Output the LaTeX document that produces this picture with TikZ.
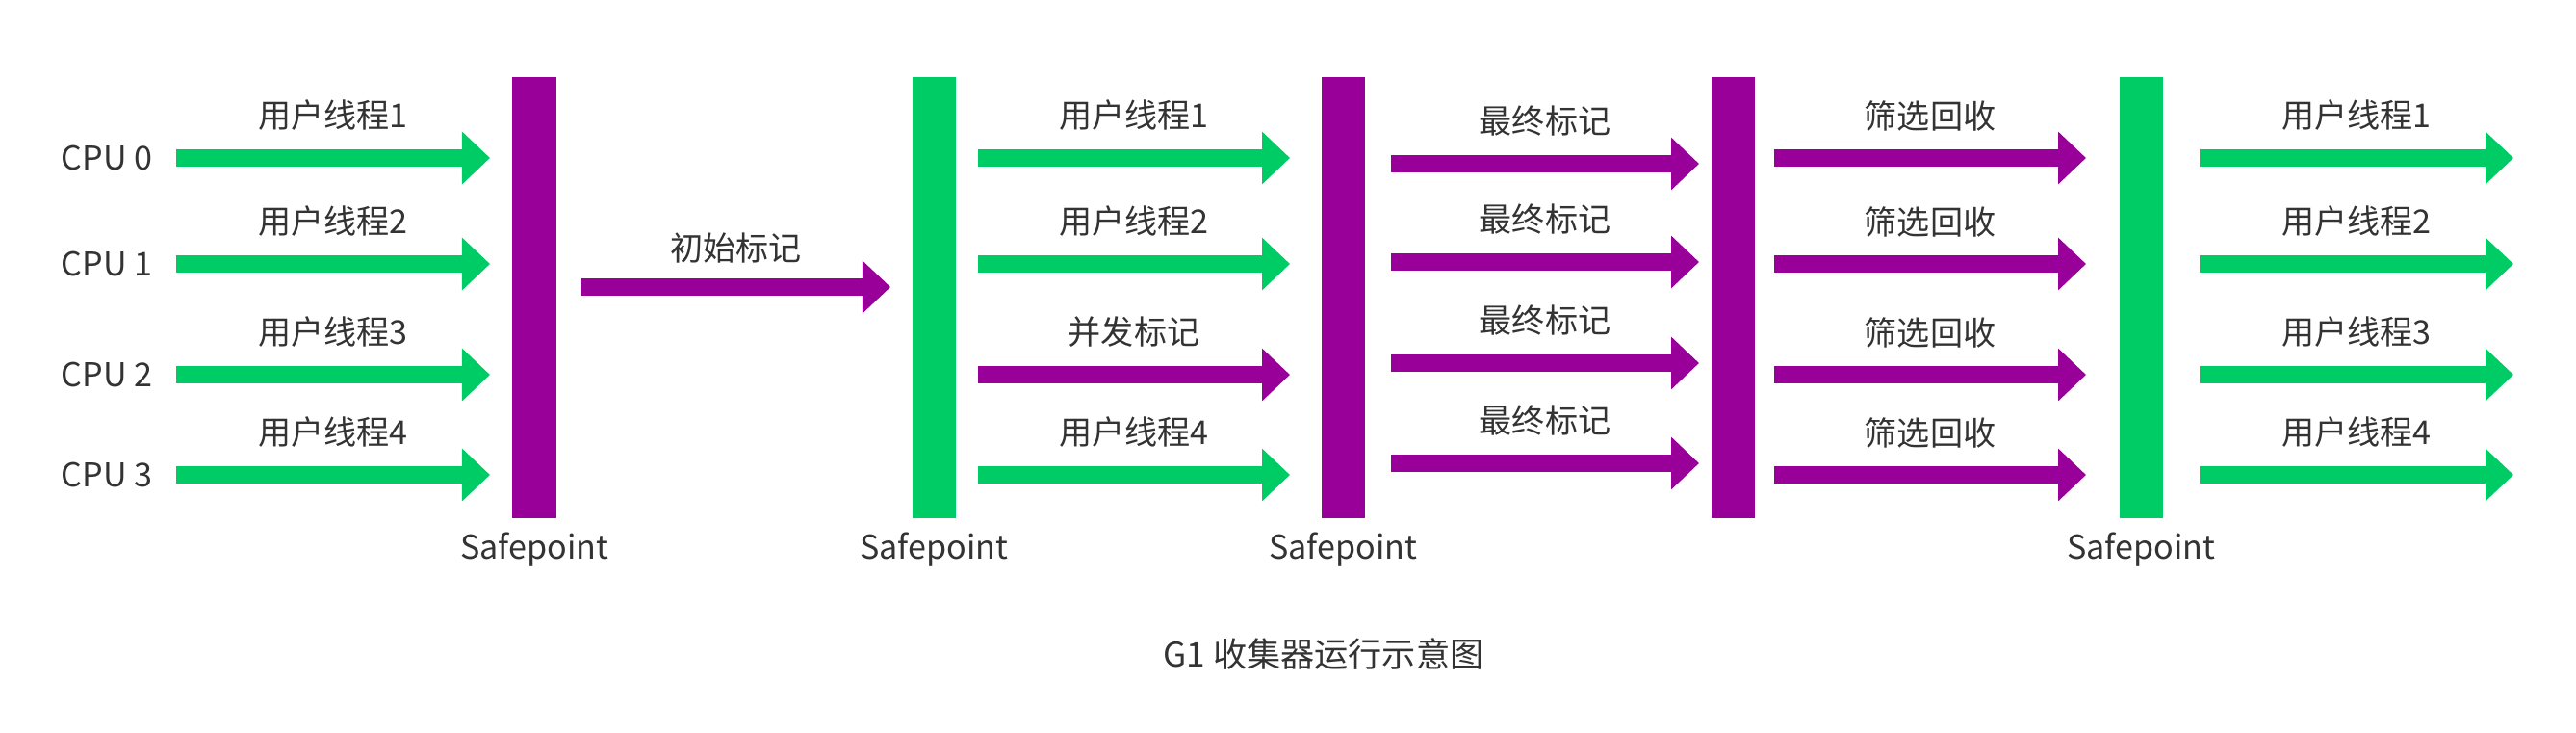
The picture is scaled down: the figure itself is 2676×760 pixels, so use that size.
\documentclass[tikz,border=0pt]{standalone}
\usepackage{fontspec}
\setmainfont{Noto Sans CJK SC}
\usetikzlibrary{arrows.meta,positioning}
\definecolor{gcgreen}{HTML}{00CC66}
\definecolor{gcpurple}{HTML}{990099}
\definecolor{txtgray}{HTML}{333333}

\tikzset{
  flow/.style={line width=0.18cm,-{Triangle[length=0.29cm,width=0.53cm]}},
  sbar/.style={minimum width=0.45cm,minimum height=4.58cm,inner sep=0pt},
  lbl/.style={text=txtgray,font=\fontsize{9.7}{11}\selectfont,inner sep=0pt},
}

\begin{document}
\begin{tikzpicture}[x=0.01cm,y=-0.01cm]
  \useasboundingbox (0,0) rectangle (2676,760);
  % safepoints
  \foreach \n/\x/\c in {1/555/gcpurple,2/970/gcgreen,3/1395/gcpurple,4/1800/gcpurple,5/2224/gcgreen}{
    \node[sbar,fill=\c] (sp\n) at (\x,309) {};
  }
  \foreach \n in {1,2,3,5}{
    \node[lbl] (spl\n) at ([yshift=-0.32cm]sp\n.south) {Safepoint};
  }
  % CPUs and first user threads
  \foreach \i/\y in {0/164,1/274,2/389,3/493}{
    \pgfmathtruncatemacro\k{\i+1}
    \node[lbl] (cpu\i) at (111,\y) {CPU \i};
    \coordinate (a\i) at (183,\y);
    \coordinate (b\i) at (509,\y);
    \draw[flow,gcgreen] (a\i) -- (b\i) node[lbl,midway,yshift=0.44cm] (ut\i) {用户线程\k};
  }
  % initial mark
  \coordinate (im0) at (604,298);
  \coordinate (im1) at (925,298);
  \draw[flow,gcpurple] (im0) -- (im1) node[lbl,midway,yshift=0.40cm] (imlbl) {初始标记};
  % concurrent mark
  \foreach \i/\y/\c/\t in {0/164/gcgreen/用户线程1,1/274/gcgreen/用户线程2,2/389/gcpurple/并发标记,3/493/gcgreen/用户线程4}{
    \coordinate (c\i) at (1016,\y);
    \coordinate (d\i) at (1340,\y);
    \draw[flow,\c] (c\i) -- (d\i) node[lbl,midway,yshift=0.44cm] (cm\i) {\t};
  }
  % final mark
  \foreach \i/\y in {0/170,1/272,2/377,3/481}{
    \coordinate (e\i) at (1445,\y);
    \coordinate (f\i) at (1765,\y);
    \draw[flow,gcpurple] (e\i) -- (f\i) node[lbl,midway,yshift=0.44cm] (fm\i) {最终标记};
  }
  % live data counting and evacuation
  \foreach \i/\y in {0/164,1/274,2/389,3/493}{
    \coordinate (g\i) at (1843,\y);
    \coordinate (h\i) at (2167,\y);
    \draw[flow,gcpurple] (g\i) -- (h\i) node[lbl,midway,yshift=0.44cm] (ev\i) {筛选回收};
  }
  % user threads again
  \foreach \i/\y in {0/164,1/274,2/389,3/493}{
    \pgfmathtruncatemacro\k{\i+1}
    \coordinate (p\i) at (2285,\y);
    \coordinate (q\i) at (2611,\y);
    \draw[flow,gcgreen] (p\i) -- (q\i) node[lbl,midway,yshift=0.44cm] (ur\i) {用户线程\k};
  }
  \node[lbl,font=\fontsize{10}{12}\selectfont] (title) at (1375,679) {G1 收集器运行示意图};
\end{tikzpicture}
\end{document}
